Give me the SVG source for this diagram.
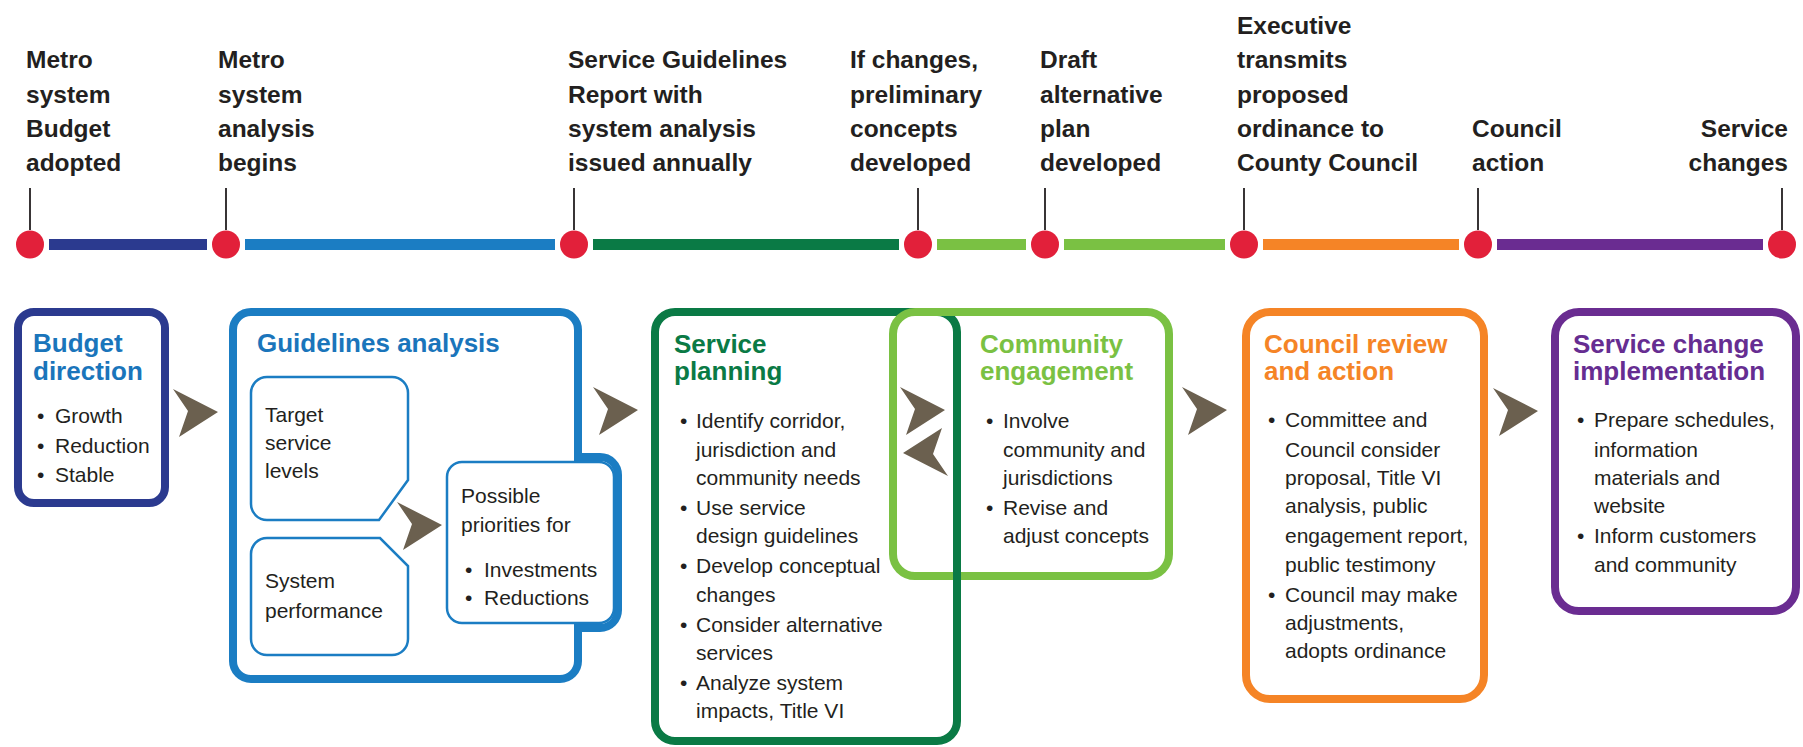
<svg xmlns="http://www.w3.org/2000/svg" width="1803" height="747" viewBox="0 0 1803 747">
<style>
.lbl{font-family:"Liberation Sans",Arial,sans-serif;font-weight:bold;font-size:24.5px;fill:#231f20}
.ttl{font-family:"Liberation Sans",Arial,sans-serif;font-weight:bold;font-size:26px}
.txt{font-family:"Liberation Sans",Arial,sans-serif;font-size:21px;fill:#231f20}
.tick{stroke:#231f20;stroke-width:1.8}
.dot{fill:#e2203a}
.box{fill:#ffffff;stroke-width:8}
.thin{fill:#ffffff;stroke:#1b7dc3;stroke-width:2.5}
.chev{fill:#6b604f}
</style>
<defs>
<path id="chev" d="M-45,-23 L0,0 L-39,25 L-30,-1 Z"/>
</defs>
<rect x="0" y="0" width="1803" height="747" fill="#ffffff"/>

<g id="timeline">
<rect x="49" y="239" width="158" height="11" fill="#2b3a8f"/>
<rect x="245" y="239" width="310" height="11" fill="#1b7dc3"/>
<rect x="593" y="239" width="306" height="11" fill="#0a7a45"/>
<rect x="937" y="239" width="89" height="11" fill="#7ac143"/>
<rect x="1064" y="239" width="161" height="11" fill="#7ac143"/>
<rect x="1263" y="239" width="196" height="11" fill="#f58426"/>
<rect x="1497" y="239" width="266" height="11" fill="#6a2c91"/>
<line class="tick" x1="30" y1="188" x2="30" y2="230"/>
<line class="tick" x1="226" y1="188" x2="226" y2="230"/>
<line class="tick" x1="574" y1="188" x2="574" y2="230"/>
<line class="tick" x1="918" y1="188" x2="918" y2="230"/>
<line class="tick" x1="1045" y1="188" x2="1045" y2="230"/>
<line class="tick" x1="1244" y1="188" x2="1244" y2="230"/>
<line class="tick" x1="1478" y1="188" x2="1478" y2="230"/>
<line class="tick" x1="1782" y1="188" x2="1782" y2="230"/>
<circle class="dot" cx="30" cy="244.5" r="14"/>
<circle class="dot" cx="226" cy="244.5" r="14"/>
<circle class="dot" cx="574" cy="244.5" r="14"/>
<circle class="dot" cx="918" cy="244.5" r="14"/>
<circle class="dot" cx="1045" cy="244.5" r="14"/>
<circle class="dot" cx="1244" cy="244.5" r="14"/>
<circle class="dot" cx="1478" cy="244.5" r="14"/>
<circle class="dot" cx="1782" cy="244.5" r="14"/>
<text class="lbl"><tspan x="26" y="68">Metro</tspan><tspan x="26" y="102.5">system</tspan><tspan x="26" y="136.5">Budget</tspan><tspan x="26" y="171">adopted</tspan></text>
<text class="lbl"><tspan x="218" y="68">Metro</tspan><tspan x="218" y="102.5">system</tspan><tspan x="218" y="136.5">analysis</tspan><tspan x="218" y="171">begins</tspan></text>
<text class="lbl"><tspan x="568" y="68">Service Guidelines</tspan><tspan x="568" y="102.5">Report with</tspan><tspan x="568" y="136.5">system analysis</tspan><tspan x="568" y="171">issued annually</tspan></text>
<text class="lbl"><tspan x="850" y="68">If changes,</tspan><tspan x="850" y="102.5">preliminary</tspan><tspan x="850" y="136.5">concepts</tspan><tspan x="850" y="171">developed</tspan></text>
<text class="lbl"><tspan x="1040" y="68">Draft</tspan><tspan x="1040" y="102.5">alternative</tspan><tspan x="1040" y="136.5">plan</tspan><tspan x="1040" y="171">developed</tspan></text>
<text class="lbl"><tspan x="1237" y="33.5">Executive</tspan><tspan x="1237" y="68">transmits</tspan><tspan x="1237" y="102.5">proposed</tspan><tspan x="1237" y="136.5">ordinance to</tspan><tspan x="1237" y="171">County Council</tspan></text>
<text class="lbl"><tspan x="1472" y="136.5">Council</tspan><tspan x="1472" y="171">action</tspan></text>
<text class="lbl" text-anchor="end"><tspan x="1788" y="136.5">Service</tspan><tspan x="1788" y="171">changes</tspan></text>
</g>

<g id="budget-direction">
<rect class="box" x="18" y="312" width="147" height="191" rx="16" stroke="#2b3a8f"/>
<text class="ttl" fill="#1a75bb"><tspan x="33" y="352">Budget</tspan><tspan x="33" y="380">direction</tspan></text>
<text class="txt"><tspan x="37" y="423">•</tspan><tspan x="55" y="423">Growth</tspan><tspan x="37" y="452.5">•</tspan><tspan x="55" y="452.5">Reduction</tspan><tspan x="37" y="482">•</tspan><tspan x="55" y="482">Stable</tspan></text>
</g>

<g id="guidelines-analysis">
<path class="box" stroke="#1b7dc3" d="M251,312 H560 A18,18 0 0 1 578,330 V457 H600 A18,18 0 0 1 618,475 V610 A18,18 0 0 1 600,628 H578 V661 A18,18 0 0 1 560,679 H251 A18,18 0 0 1 233,661 V330 A18,18 0 0 1 251,312 Z"/>
<text class="ttl" fill="#1a75bb" x="257" y="352">Guidelines analysis</text>
</g>

<g id="target-service-levels">
<path class="thin" d="M267,377 H392 A16,16 0 0 1 408,393 V480 L379,520 H267 A16,16 0 0 1 251,504 V393 A16,16 0 0 1 267,377 Z"/>
<text class="txt"><tspan x="265" y="422">Target</tspan><tspan x="265" y="450">service</tspan><tspan x="265" y="478">levels</tspan></text>
</g>

<g id="system-performance">
<path class="thin" d="M267,538 H380 L408,566 V639 A16,16 0 0 1 392,655 H267 A16,16 0 0 1 251,639 V554 A16,16 0 0 1 267,538 Z"/>
<text class="txt"><tspan x="265" y="588">System</tspan><tspan x="265" y="618">performance</tspan></text>
</g>

<g id="possible-priorities">
<rect class="thin" x="447" y="462" width="167" height="161" rx="15"/>
<text class="txt"><tspan x="461" y="503">Possible</tspan><tspan x="461" y="532">priorities for</tspan><tspan x="465" y="577">•</tspan><tspan x="484" y="577">Investments</tspan><tspan x="465" y="605">•</tspan><tspan x="484" y="605">Reductions</tspan></text>
</g>

<g id="service-planning">
<rect class="box" x="655" y="312" width="302" height="429" rx="20" stroke="#0a7a45"/>
<text class="ttl" fill="#0a7a45"><tspan x="674" y="353">Service</tspan><tspan x="674" y="380">planning</tspan></text>
<text class="txt">
<tspan x="680" y="428">•</tspan><tspan x="696" y="428">Identify corridor,</tspan>
<tspan x="696" y="457">jurisdiction and</tspan>
<tspan x="696" y="485">community needs</tspan>
<tspan x="680" y="515">•</tspan><tspan x="696" y="515">Use service</tspan>
<tspan x="696" y="543">design guidelines</tspan>
<tspan x="680" y="573">•</tspan><tspan x="696" y="573">Develop conceptual</tspan>
<tspan x="696" y="602">changes</tspan>
<tspan x="680" y="632">•</tspan><tspan x="696" y="632">Consider alternative</tspan>
<tspan x="696" y="660">services</tspan>
<tspan x="680" y="690">•</tspan><tspan x="696" y="690">Analyze system</tspan>
<tspan x="696" y="718">impacts, Title VI</tspan>
</text>
</g>

<g id="community-engagement">
<rect x="893" y="312" width="276" height="264" rx="22" fill="none" stroke="#7ac143" stroke-width="8"/>
<line x1="957" y1="560" x2="957" y2="594" stroke="#0a7a45" stroke-width="8"/>
<text class="ttl" fill="#7ac143"><tspan x="980" y="353">Community</tspan><tspan x="980" y="380">engagement</tspan></text>
<text class="txt">
<tspan x="986" y="428">•</tspan><tspan x="1003" y="428">Involve</tspan>
<tspan x="1003" y="457">community and</tspan>
<tspan x="1003" y="485">jurisdictions</tspan>
<tspan x="986" y="515">•</tspan><tspan x="1003" y="515">Revise and</tspan>
<tspan x="1003" y="543">adjust concepts</tspan>
</text>
</g>

<g id="council-review">
<rect class="box" x="1246" y="312" width="238" height="387" rx="24" stroke="#f58426"/>
<text class="ttl" fill="#f58426"><tspan x="1264" y="353">Council review</tspan><tspan x="1264" y="380">and action</tspan></text>
<text class="txt">
<tspan x="1268" y="427">•</tspan><tspan x="1285" y="427">Committee and</tspan>
<tspan x="1285" y="457">Council consider</tspan>
<tspan x="1285" y="485">proposal, Title VI</tspan>
<tspan x="1285" y="513">analysis, public</tspan>
<tspan x="1285" y="543">engagement report,</tspan>
<tspan x="1285" y="572">public testimony</tspan>
<tspan x="1268" y="602">•</tspan><tspan x="1285" y="602">Council may make</tspan>
<tspan x="1285" y="630">adjustments,</tspan>
<tspan x="1285" y="658">adopts ordinance</tspan>
</text>
</g>

<g id="service-change-implementation">
<rect class="box" x="1555" y="312" width="241" height="299" rx="24" stroke="#6a2c91"/>
<text class="ttl" fill="#662d91"><tspan x="1573" y="353">Service change</tspan><tspan x="1573" y="380">implementation</tspan></text>
<text class="txt">
<tspan x="1577" y="427">•</tspan><tspan x="1594" y="427">Prepare schedules,</tspan>
<tspan x="1594" y="457">information</tspan>
<tspan x="1594" y="485">materials and</tspan>
<tspan x="1594" y="513">website</tspan>
<tspan x="1577" y="543">•</tspan><tspan x="1594" y="543">Inform customers</tspan>
<tspan x="1594" y="572">and community</tspan>
</text>
</g>

<g id="connectors">
<use href="#chev" class="chev" transform="translate(218,412)"/>
<use href="#chev" class="chev" transform="translate(442,525)"/>
<use href="#chev" class="chev" transform="translate(638,410)"/>
<use href="#chev" class="chev" transform="translate(945,410)"/>
<use href="#chev" class="chev" transform="translate(903,453) scale(-1,-1)"/>
<use href="#chev" class="chev" transform="translate(1227,410)"/>
<use href="#chev" class="chev" transform="translate(1538,411)"/>
</g>
</svg>
